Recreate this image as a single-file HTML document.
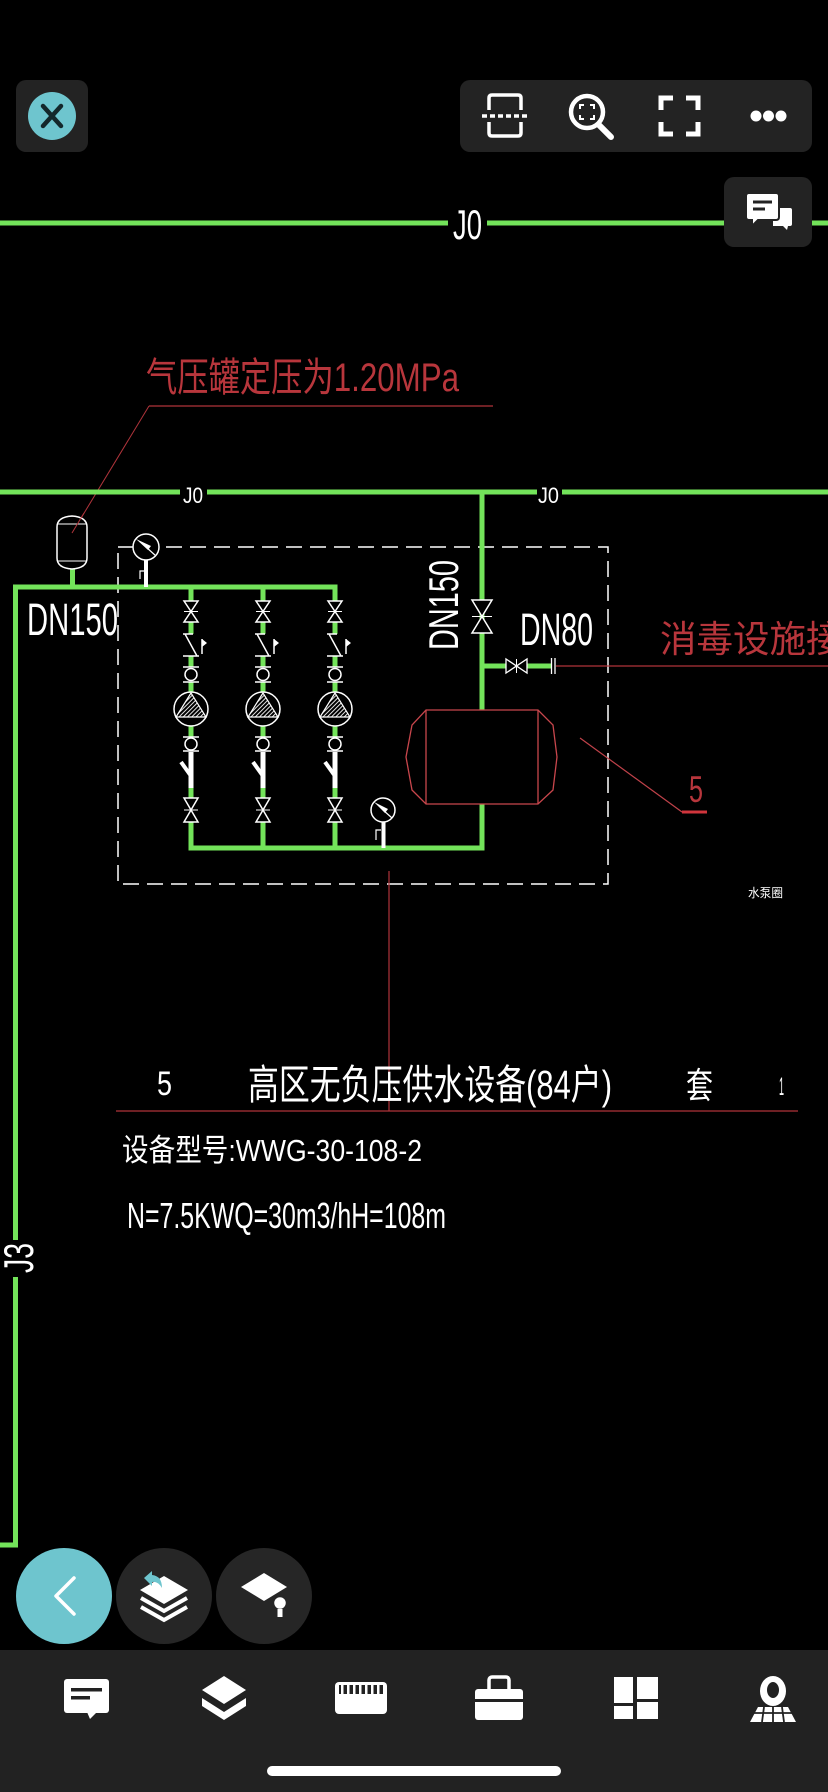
<!DOCTYPE html>
<html><head><meta charset="utf-8">
<style>
html,body{margin:0;padding:0;background:#000;}
svg{display:block}
text{font-family:"Liberation Sans","Noto Sans CJK SC",sans-serif;}
</style></head><body>
<svg width="828" height="1792" viewBox="0 0 828 1792" xmlns="http://www.w3.org/2000/svg">
<defs>
<pattern id="hatch" patternUnits="userSpaceOnUse" width="3" height="3" patternTransform="rotate(45)">
<rect width="3" height="3" fill="#000"/>
<line x1="0" y1="0" x2="0" y2="3" stroke="#fff" stroke-width="1.8"/>
</pattern>
<g id="col">
 <g stroke="#73e35a" stroke-width="5">
  <line x1="0" y1="587" x2="0" y2="601"/>
  <line x1="0" y1="622" x2="0" y2="634"/>
  <line x1="0" y1="656" x2="0" y2="667"/>
  <line x1="0" y1="682" x2="0" y2="692"/>
  <line x1="0" y1="726" x2="0" y2="737"/>
  <line x1="0" y1="788" x2="0" y2="798"/>
  <line x1="0" y1="822" x2="0" y2="848"/>
 </g>
 <g stroke="#fff" stroke-width="1.5" fill="#000">
  <path d="M-7,601 H7 L-7,622 H7 Z"/>
  <line x1="-7" y1="611.5" x2="7" y2="611.5" stroke-width="1"/>
  <path d="M-7,798 H7 L-7,822 H7 Z"/>
  <line x1="-7" y1="810" x2="7" y2="810" stroke-width="1"/>
  <path d="M-8,634 H2 M-6,634 L6,656 M-8,656 H8" fill="none"/>
  <line x1="11" y1="639" x2="11" y2="654"/>
  <path d="M-8,667 H8 M-8,682 H8 M-8,737 H8 M-8,751 H8" fill="none"/>
  <circle cx="0" cy="674.5" r="6"/>
  <circle cx="0" cy="744" r="6"/>
  <circle cx="0" cy="709" r="17"/>
  <path d="M0,693 L-15,717 H15 Z" fill="url(#hatch)" stroke-width="1.2"/>
 </g>
 <path d="M11,639 L16,643 L11,647 Z" fill="#fff"/>
 <rect x="-2.5" y="752" width="5" height="36" fill="#fff"/>
 <line x1="0" y1="776" x2="-10" y2="762" stroke="#fff" stroke-width="4"/>
</g>
</defs>

<!-- top J0 line -->
<g stroke="#73e35a" stroke-width="5">
 <line x1="0" y1="223" x2="448" y2="223"/>
 <line x1="487" y1="223" x2="828" y2="223"/>
</g>
<text x="453" y="239" font-size="42" fill="#fff" textLength="29" lengthAdjust="spacingAndGlyphs">J0</text>

<!-- red annotation -->
<text x="146" y="391" font-size="40" fill="#b8363c" textLength="313" lengthAdjust="spacingAndGlyphs">气压罐定压为1.20MPa</text>
<line x1="149" y1="406" x2="493" y2="406" stroke="#b0343b" stroke-width="1.2"/>
<line x1="149" y1="406" x2="72" y2="533" stroke="#b0343b" stroke-width="1"/>

<!-- J0 second line -->
<g stroke="#73e35a" stroke-width="5">
 <line x1="0" y1="492" x2="180" y2="492"/>
 <line x1="207" y1="492" x2="537" y2="492"/>
 <line x1="562" y1="492" x2="828" y2="492"/>
</g>
<text x="183" y="503" font-size="22" fill="#fff" textLength="20" lengthAdjust="spacingAndGlyphs">J0</text>
<text x="538" y="503" font-size="22" fill="#fff" textLength="21" lengthAdjust="spacingAndGlyphs">J0</text>

<!-- dashed box -->
<rect x="118" y="547" width="490" height="337" fill="none" stroke="#fff" stroke-width="1.5" stroke-dasharray="16 8"/>

<!-- main pipes -->
<path d="M15.5,1240 V587 H335 V601" fill="none" stroke="#73e35a" stroke-width="5" stroke-linejoin="miter"/>
<path d="M191,822 V848 H482 V492" fill="none" stroke="#73e35a" stroke-width="5" stroke-linejoin="miter"/>
<line x1="15.5" y1="1277" x2="15.5" y2="1545" stroke="#73e35a" stroke-width="5"/>
<line x1="0" y1="1545" x2="18" y2="1545" stroke="#73e35a" stroke-width="5"/>
<text transform="translate(33,1258) rotate(-90)" font-size="42" fill="#fff" text-anchor="middle" textLength="30" lengthAdjust="spacingAndGlyphs">J3</text>

<!-- pressure tank small -->
<rect x="70" y="566" width="5" height="21" fill="#73e35a"/>
<path d="M57,527 Q57,517 72,516 Q87,517 87,527 L87,558 Q87,568 72,569 Q57,568 57,558 Z" fill="#000" stroke="#fff" stroke-width="1.5"/>
<line x1="57" y1="524" x2="87" y2="524" stroke="#fff" stroke-width="1"/>
<line x1="57" y1="561" x2="87" y2="561" stroke="#fff" stroke-width="1"/>
<line x1="84" y1="513" x2="72" y2="533" stroke="#b0343b" stroke-width="1"/>

<!-- top gauge -->
<rect x="144" y="560" width="4" height="27" fill="#fff"/>
<path d="M140,579 V571 H144" fill="none" stroke="#fff" stroke-width="1.2"/>
<circle cx="146" cy="547" r="13" fill="#000" stroke="#fff" stroke-width="1.5"/>
<path d="M136,539 L151,546 L148,550 Z" fill="#fff"/>
<line x1="146" y1="547" x2="156" y2="556" stroke="#fff" stroke-width="1.2"/>

<!-- DN150 left -->
<text x="27" y="635" font-size="45" fill="#fff" textLength="91" lengthAdjust="spacingAndGlyphs">DN150</text>

<!-- pump columns -->
<use href="#col" x="191"/>
<use href="#col" x="263"/>
<use href="#col" x="335"/>

<!-- bottom gauge -->
<rect x="381.5" y="822" width="4" height="26" fill="#fff"/>
<path d="M376,840 V830 H381" fill="none" stroke="#fff" stroke-width="1.2"/>
<circle cx="383" cy="810" r="12" fill="#000" stroke="#fff" stroke-width="1.5"/>
<path d="M374,802 L388,809 L385,813 Z" fill="#fff"/>
<line x1="383" y1="810" x2="392" y2="818" stroke="#fff" stroke-width="1.2"/>

<!-- vertical DN150 + valve -->
<text transform="translate(458,605) rotate(-90)" font-size="42" fill="#fff" text-anchor="middle" textLength="90" lengthAdjust="spacingAndGlyphs">DN150</text>
<path d="M472,600 H492 L472,633 H492 Z" fill="#000" stroke="#fff" stroke-width="1.5"/>
<line x1="472" y1="616.5" x2="492" y2="616.5" stroke="#fff" stroke-width="1"/>

<!-- DN80 branch -->
<text x="520" y="645" font-size="45" fill="#fff" textLength="73" lengthAdjust="spacingAndGlyphs">DN80</text>
<line x1="482" y1="666" x2="506" y2="666" stroke="#73e35a" stroke-width="5"/>
<line x1="527" y1="666" x2="551" y2="666" stroke="#73e35a" stroke-width="5"/>
<path d="M506,659 V673 L527,659 V673 Z" fill="#000" stroke="#fff" stroke-width="1.3"/>
<line x1="516.5" y1="659" x2="516.5" y2="673" stroke="#fff" stroke-width="1"/>
<line x1="551.5" y1="658" x2="551.5" y2="674" stroke="#fff" stroke-width="1.3"/>
<line x1="555" y1="658" x2="555" y2="674" stroke="#fff" stroke-width="1.3"/>
<line x1="556" y1="666" x2="828" y2="666" stroke="#b0343b" stroke-width="1.2"/>
<text x="660" y="652" font-size="37" fill="#b8363c" textLength="219" lengthAdjust="spacingAndGlyphs">消毒设施接口</text>

<!-- red tank -->
<path d="M426,710 H538 L553,725 L557,757 L553,790 L538,804 H426 L412,790 L406,757 L412,725 Z" fill="#000" stroke="#c8464c" stroke-width="1.3"/>
<line x1="426" y1="710" x2="426" y2="804" stroke="#c8464c" stroke-width="1.3"/>
<line x1="538" y1="710" x2="538" y2="804" stroke="#c8464c" stroke-width="1.3"/>

<!-- leader 5 -->
<line x1="580" y1="738" x2="682" y2="812" stroke="#c0424a" stroke-width="1.2"/>
<line x1="682" y1="812" x2="707" y2="812" stroke="#d0353c" stroke-width="3"/>
<text x="689" y="802" font-size="37" fill="#b8363c" textLength="14" lengthAdjust="spacingAndGlyphs">5</text>

<text x="748" y="897" font-size="12" fill="#fff" textLength="35" lengthAdjust="spacingAndGlyphs">水泵圈</text>

<!-- table -->
<line x1="389" y1="871" x2="389" y2="1111" stroke="#b0343b" stroke-width="1.2"/>
<line x1="116" y1="1111" x2="798" y2="1111" stroke="#b0343b" stroke-width="1.3"/>
<text x="157" y="1095" font-size="34" fill="#fff" textLength="15" lengthAdjust="spacingAndGlyphs">5</text>
<text x="248" y="1099" font-size="41" fill="#fff" textLength="364" lengthAdjust="spacingAndGlyphs">高区无负压供水设备(84户)</text>
<text x="686" y="1098" font-size="36" fill="#fff" textLength="27" lengthAdjust="spacingAndGlyphs">套</text>
<text x="779" y="1095" font-size="25" fill="#fff" textLength="5" lengthAdjust="spacingAndGlyphs">1</text>
<text x="122" y="1161" font-size="31" fill="#fff" textLength="300" lengthAdjust="spacingAndGlyphs">设备型号:WWG-30-108-2</text>
<text x="127" y="1228" font-size="36" fill="#fff" textLength="319" lengthAdjust="spacingAndGlyphs">N=7.5KWQ=30m3/hH=108m</text>

<!-- top-left close -->
<rect x="16" y="80" width="72" height="72" rx="10" fill="#232323"/>
<circle cx="52" cy="116" r="24" fill="#6ec5ce"/>
<path d="M43,106 L61,126 M61,106 L43,126" stroke="#14282b" stroke-width="4.5" stroke-linecap="round"/>

<!-- toolbar -->
<rect x="460" y="80" width="352" height="72" rx="10" fill="#232323"/>
<g fill="none" stroke="#fff">
 <path d="M489,110 V98 Q489,95 492,95 H518 Q521,95 521,98 V110 M489,122 V133 Q489,136 492,136 H518 Q521,136 521,133 V122" stroke-width="3.5"/>
 <line x1="482" y1="116" x2="528" y2="116" stroke-width="3.5" stroke-dasharray="5 3"/>
 <circle cx="587" cy="112" r="16" stroke-width="4.5"/>
 <line x1="599" y1="125" x2="611" y2="137" stroke-width="6" stroke-linecap="round"/>
 <path d="M580,109 V105 H584 M590,105 H594 V109 M594,115 V119 H590 M584,119 H580 V115" stroke-width="2"/>
 <path d="M661,110 V98 H673 M686,98 H698 V110 M698,122 V134 H686 M673,134 H661 V122" stroke-width="5"/>
</g>
<circle cx="756" cy="116" r="5.5" fill="#fff"/>
<circle cx="768.5" cy="116" r="5.5" fill="#fff"/>
<circle cx="781" cy="116" r="5.5" fill="#fff"/>

<!-- chat button -->
<rect x="724" y="177" width="88" height="70" rx="10" fill="#232323"/>
<path d="M773,208 H790 Q792,208 792,210 V224 Q792,226 790,226 H788 L787,230 L783,226 H773 Z" fill="#fff"/>
<path d="M749,193 H776 Q779,193 779,196 V217 Q779,220 776,220 H758 L752,226 L752,220 H749 Q746,220 746,217 V196 Q746,193 749,193 Z" fill="#fff" stroke="#232323" stroke-width="2"/>
<rect x="753" y="200.5" width="19" height="3" fill="#232323"/>
<rect x="753" y="207.5" width="12" height="3" fill="#232323"/>

<!-- floating circle buttons -->
<circle cx="64" cy="1596" r="48" fill="#6ec5ce"/>
<path d="M74,1578 L56,1596 L74,1614" fill="none" stroke="#fff" stroke-width="3.5" stroke-linecap="round" stroke-linejoin="round"/>
<circle cx="164" cy="1596" r="48" fill="#262626"/>
<path d="M164,1576 L188,1590 L164,1604 L140,1590 Z" fill="#fff"/>
<path d="M141,1598 L164,1611 L187,1598" fill="none" stroke="#fff" stroke-width="4"/>
<path d="M141,1607 L164,1620 L187,1607" fill="none" stroke="#fff" stroke-width="4"/>
<path d="M144,1578 L152,1571 L152,1575 Q162,1576 162,1588 Q158,1581 152,1582 L152,1586 Z" fill="#6ec5ce"/>
<circle cx="264" cy="1596" r="48" fill="#262626"/>
<path d="M264,1573 L287,1587 L264,1601 L241,1587 Z" fill="#fff"/>
<circle cx="280" cy="1603" r="7" fill="#fff" stroke="#262626" stroke-width="2.5"/>
<rect x="277.5" y="1609" width="5" height="8" fill="#fff"/>

<!-- bottom bar -->
<rect x="0" y="1650" width="828" height="142" fill="#222222"/>
<rect x="64" y="1679" width="45" height="34" rx="3" fill="#fff"/>
<path d="M87,1712 H97 L90,1719 Z" fill="#fff"/>
<rect x="71" y="1688" width="31" height="3.5" fill="#222"/>
<rect x="71" y="1696" width="19" height="3.5" fill="#222"/>

<path d="M224,1676 L246,1690 L224,1704 L202,1690 Z" fill="#fff"/>
<path d="M202,1698 L224,1712 L246,1698 L246,1706 L224,1720 L202,1706 Z" fill="#fff"/>

<rect x="335" y="1682" width="52" height="32" rx="4" fill="#fff"/>
<rect x="339" y="1685" width="44" height="9" fill="#222"/>
<g fill="#fff">
<rect x="341" y="1685" width="2.5" height="9"/><rect x="347" y="1685" width="2.5" height="9"/>
<rect x="353" y="1685" width="2.5" height="9"/><rect x="359" y="1685" width="2.5" height="9"/>
<rect x="365" y="1685" width="2.5" height="9"/><rect x="371" y="1685" width="2.5" height="9"/>
<rect x="377" y="1685" width="2.5" height="9"/>
</g>

<rect x="489" y="1677" width="20" height="16" rx="3" fill="none" stroke="#fff" stroke-width="3.5"/>
<rect x="475" y="1689" width="48" height="31" rx="3" fill="#fff"/>
<rect x="475" y="1699" width="48" height="3" fill="#222"/>

<rect x="614" y="1677" width="19" height="26" fill="#fff"/>
<rect x="637" y="1677" width="21" height="22" fill="#fff"/>
<rect x="614" y="1706" width="19" height="13" fill="#fff"/>
<rect x="637" y="1702" width="21" height="17" fill="#fff"/>

<ellipse cx="773" cy="1691" rx="13" ry="15" fill="#fff"/>
<ellipse cx="773" cy="1690" rx="6" ry="8" fill="#222"/>
<path d="M758,1707 H788 L796,1722 H750 Z" fill="#fff"/>
<g stroke="#222" stroke-width="1.8">
<line x1="752" y1="1713" x2="794" y2="1713"/>
<line x1="764" y1="1707" x2="762" y2="1722"/>
<line x1="773" y1="1707" x2="773" y2="1722"/>
<line x1="782" y1="1707" x2="784" y2="1722"/>
</g>

<rect x="267" y="1766" width="294" height="10" rx="5" fill="#fff"/>
</svg>
</body></html>
